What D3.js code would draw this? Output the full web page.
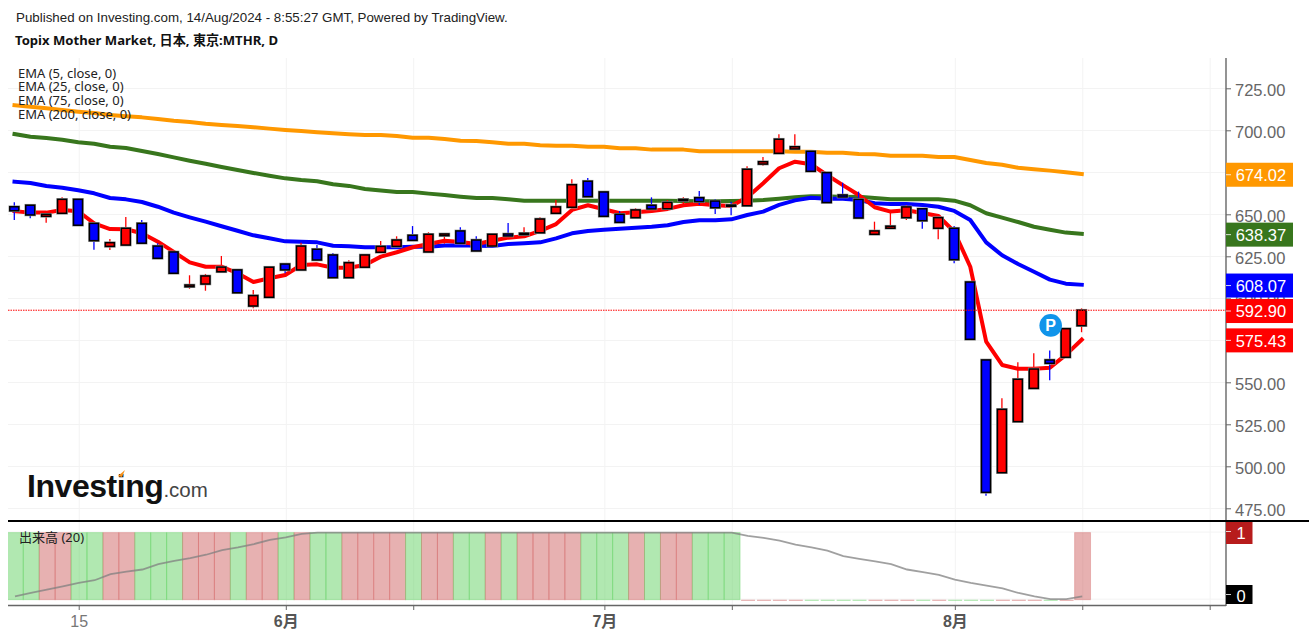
<!DOCTYPE html>
<html>
<head>
<meta charset="utf-8">
<script src="https://cdn.jsdelivr.net/npm/d3@7"></script>
<style>
html, body { margin: 0; padding: 0; background: #fff; overflow: hidden; }
svg { display: block; font-family: "Liberation Sans", Arial, sans-serif; }
</style>
</head>
<body>
<svg id="chart" width="1309" height="639"></svg>
<script>
// daily bars, May 9 - Aug 14 2024
const opens = [654.5,655.4,648.8,650.6,658.9,644.6,630.9,631.7,644.6,631.1,627.6,606.9,608.5,615.8,616.9,595.4,600.6,620.4,616.9,629.2,625.8,612.3,618.5,627.4,630.9,637.5,627.6,637.3,640.1,634.7,631.1,638.3,637.9,639.0,650.6,654.2,669.7,663.3,650.0,648.0,655.4,653.3,658.1,659.9,657.9,655.5,655.1,679.9,686.3,688.9,687.5,674.8,661.5,658.9,638.1,641.7,648.0,653.3,641.7,641.7,609.7,563.3,496.2,526.6,546.4,563.3,564.9,583.7];
const highs = [657.2,655.4,650.0,660.1,658.9,644.6,635.3,648.4,646.6,632.8,627.6,613.7,614.5,625.2,616.9,604.9,618.5,620.4,633.1,631.7,627.0,622.6,625.8,634.1,636.9,643.0,639.3,638.3,642.3,636.9,638.1,644.8,642.3,648.2,658.5,670.8,671.6,663.3,652.0,653.6,660.1,658.5,660.1,663.9,659.0,657.5,678.6,684.1,697.6,697.6,687.5,674.8,668.8,663.5,645.6,651.6,655.6,653.3,648.0,643.0,609.7,563.3,540.5,561.9,567.3,569.0,581.9,594.0];
const lows = [646.6,647.6,645.0,650.6,643.5,628.9,628.8,631.7,632.8,623.8,614.9,605.7,604.5,615.8,603.3,594.1,600.6,614.9,616.9,622.8,612.3,612.3,618.5,627.4,630.9,634.5,627.6,632.5,632.8,628.2,631.1,637.1,637.9,639.0,650.6,654.2,660.5,648.8,645.2,648.0,653.2,653.3,656.1,655.5,650.2,649.4,655.1,678.9,686.3,688.9,675.6,657.0,660.3,647.8,638.1,641.7,646.6,641.4,635.1,620.8,575.6,482.5,496.2,526.6,546.4,551.2,564.9,579.8];
const closes = [652.1,649.6,650.0,658.9,643.5,634.3,633.1,641.7,632.8,623.8,614.9,607.9,613.3,618.6,603.3,601.6,618.5,616.9,631.1,622.8,612.3,621.2,625.8,630.9,634.7,634.5,638.1,638.3,632.8,628.2,638.1,637.1,638.7,647.2,654.4,667.6,660.5,648.8,645.2,652.6,653.2,657.1,658.9,657.5,653.9,654.8,676.8,681.3,694.7,690.2,675.6,657.0,660.3,647.8,640.1,642.9,654.4,646.2,648.0,623.0,575.6,484.5,533.9,551.8,557.9,561.3,581.9,592.9];

const ema5 = [651.8,651.0,651.0,652.6,651.8,644.6,641.2,641.1,638.7,633.7,627.6,621.4,618.8,618.8,614.9,609.7,611.9,613.9,619.8,620.2,618.2,618.2,619.8,624.8,627.4,630.4,632.3,634.3,633.5,632.3,634.3,636.1,636.9,640.1,644.2,652.6,655.4,653.0,650.6,651.2,652.0,653.2,655.4,656.3,655.4,655.0,660.1,668.5,677.4,681.3,679.8,673.4,667.4,661.5,654.2,651.6,652.4,650.8,649.0,639.6,618.8,574.2,560.3,558.1,558.1,558.7,566.3,575.43];
const ema25 = [669.4,668.6,666.9,665.8,664.3,662.5,659.7,658.9,657.3,654.5,651.0,648.2,645.6,642.9,640.2,637.5,635.7,633.9,633.7,633.3,631.3,631.0,630.4,630.4,630.4,630.7,630.7,631.4,631.6,631.3,631.1,632.3,632.7,633.3,635.7,638.7,640.1,640.8,641.4,642.0,642.6,643.5,645.4,646.4,646.4,647.0,649.6,651.6,655.6,658.3,659.9,659.3,659.3,658.5,656.6,656.1,656.1,655.5,654.5,652.0,646.6,633.3,625.6,620.4,615.8,611.1,608.7,608.07];
const ema75 = [697.8,696.2,695.4,694.4,692.9,692.0,690.2,689.5,687.7,685.9,683.9,681.9,680.1,678.2,676.4,674.6,673.0,671.4,670.4,669.7,667.9,666.9,665.1,664.1,663.3,663.3,662.3,661.5,660.5,659.7,659.7,658.9,658.1,658.1,658.1,658.1,658.1,658.1,658.1,658.1,658.1,658.1,657.9,657.7,657.7,657.9,658.1,658.5,659.3,660.1,660.7,660.7,660.3,660.5,659.7,658.9,658.9,658.9,658.9,658.1,655.4,650.6,648.0,645.4,642.6,640.8,639.1,638.37];
const ema200 = [714.9,714.0,713.1,712.1,711.1,710.3,709.1,708.3,707.7,706.7,705.7,705.0,703.9,703.2,702.6,701.8,701.0,700.2,699.6,698.8,698.2,697.6,697.2,697.2,696.6,695.6,695.6,694.8,693.8,693.6,692.9,692.0,692.0,691.1,690.8,690.8,690.2,690.2,689.3,689.3,688.5,688.5,688.5,687.5,687.5,687.5,687.5,687.5,687.5,687.3,687.3,686.7,686.7,685.9,685.7,684.9,684.9,684.9,684.1,684.1,682.3,680.5,679.5,677.7,676.8,676.0,675.0,674.02];

const volumes = [1,1,1,1,1,1,1,1,1,1,1,1,1,1,1,1,1,1,1,1,1,1,1,1,1,1,1,1,1,1,1,1,1,1,1,1,1,1,1,1,1,1,1,1,1,1,0,0,0,0,0,0,0,0,0,0,0,0,0,0,0,0,0,0,0,0,0,1];
const volumeMa = [0.05,0.1,0.15,0.2,0.25,0.29,0.38,0.42,0.45,0.53,0.58,0.62,0.67,0.74,0.78,0.83,0.89,0.93,0.98,1,1,1,1,1,1,1,1,1,1,1,1,1,1,1,1,1,1,1,1,1,1,1,1,1,1,1,0.95,0.92,0.88,0.82,0.78,0.73,0.65,0.61,0.57,0.53,0.45,0.41,0.37,0.3,0.25,0.21,0.17,0.1,0.05,0.01,0.01,0.05];

const priceTicks = [725,700,675,650,625,600,575,550,525,500,475];
const timeTicks = [4,17,25,37,45,59,67,75];
const timeLabels = {4: "15", 17: "6月", 37: "7月", 59: "8月"};
const monthTicks = [17,37,59];
const legendNames = ["EMA (5, close, 0)","EMA (25, close, 0)","EMA (75, close, 0)","EMA (200, close, 0)"];

const lastPrice = 592.9;
const priceTags = [
    {value: 674.02, color: "#ff9800"},
    {value: 638.37, color: "#38761d"},
    {value: 608.07, color: "#0000ff"},
    {value: 592.90, color: "#ff0000"},
    {value: 575.43, color: "#ff0000"}
];

const UP = "#ff0000", DOWN = "#0000ff";
const left = 8, axisX = 1226;

const svg = d3.select("#chart");

const x = d3.scaleLinear().domain([0, 75]).range([15, 1209.7]);
const y = d3.scaleLinear().domain([475, 725]).range([508.3, 88.3]);
const yVol = d3.scaleLinear().domain([0, 1]).range([599.7, 532.6]);

svg.append("clipPath").attr("id", "plot").append("rect")
    .attr("x", left).attr("y", 58).attr("width", axisX - left).attr("height", 548);

// grid
const grid = svg.append("g").attr("stroke", "#f3f3f3").attr("stroke-width", 1);
grid.selectAll("line.h").data(priceTicks).join("line")
    .attr("x1", left).attr("x2", axisX)
    .attr("y1", d => Math.round(y(d)) + 0.5).attr("y2", d => Math.round(y(d)) + 0.5);
grid.selectAll("line.v").data(timeTicks).join("line")
    .attr("x1", d => x(d) + 0.5).attr("x2", d => x(d) + 0.5)
    .attr("y1", 58).attr("y2", 605);
grid.selectAll("line.vh").data([0, 1]).join("line")
    .attr("x1", left).attr("x2", axisX)
    .attr("y1", d => yVol(d) - 0.5).attr("y2", d => yVol(d) - 0.5);

// ema lines
const line = d3.line().x((d, i) => x(i) - 0.5).y(d => y(d));
const emas = [[ema200, "#ff9800"], [ema75, "#38761d"], [ema25, "#0000ff"], [ema5, "#ff0000"]];
svg.append("g").selectAll("path").data(emas).join("path")
    .attr("d", d => line(d[0]))
    .attr("fill", "none")
    .attr("stroke", d => d[1])
    .attr("stroke-width", 4)
    .attr("stroke-linejoin", "round")
    .attr("stroke-linecap", "square");

// candles
const bars = d3.range(opens.length);
const candles = svg.append("g");
candles.selectAll("line").data(bars).join("line")
    .attr("x1", i => x(i) - 0.7).attr("x2", i => x(i) - 0.7)
    .attr("y1", i => y(highs[i])).attr("y2", i => y(lows[i]))
    .attr("stroke", i => closes[i] >= opens[i] ? UP : DOWN)
    .attr("stroke-width", 1.3);
candles.selectAll("rect.halo").data(bars).join("rect")
    .attr("x", i => x(i) - 5.2)
    .attr("width", 9)
    .attr("y", i => y(Math.max(opens[i], closes[i])))
    .attr("height", i => Math.abs(y(opens[i]) - y(closes[i])))
    .attr("fill", "none")
    .attr("stroke", "#999")
    .attr("stroke-width", 2.6);
candles.selectAll("rect.body").data(bars).join("rect")
    .attr("x", i => x(i) - 5.2)
    .attr("width", 9)
    .attr("y", i => y(Math.max(opens[i], closes[i])))
    .attr("height", i => Math.abs(y(opens[i]) - y(closes[i])))
    .attr("fill", i => closes[i] >= opens[i] ? UP : DOWN)
    .attr("stroke", "#000")
    .attr("stroke-width", 1.5);

// last price line
svg.append("line")
    .attr("x1", left).attr("x2", axisX)
    .attr("y1", y(lastPrice)).attr("y2", y(lastPrice))
    .attr("stroke", "#ff0000")
    .attr("stroke-width", 1)
    .attr("stroke-dasharray", "1.5,1");

// P badge
svg.append("circle").attr("cx", 1050.7).attr("cy", 325.4).attr("r", 11.3).attr("fill", "#1094ea");
svg.append("text").attr("x", 1050.7).attr("y", 331.2)
    .attr("text-anchor", "middle")
    .attr("font-size", 16).attr("font-weight", 700)
    .attr("fill", "#fff").text("P");

// volume pane
const barW = x(1) - x(0);
svg.append("g").attr("clip-path", "url(#plot)").selectAll("rect").data(bars).join("rect")
    .attr("x", i => x(i) - barW / 2 + 0.3 + (volumes[i] ? 0 : 1))
    .attr("width", i => volumes[i] ? barW : barW - 2)
    .attr("y", i => volumes[i] ? yVol(volumes[i]) : yVol(0))
    .attr("height", i => volumes[i] ? yVol(0) - yVol(volumes[i]) : 1.2)
    .attr("fill", i => closes[i] >= opens[i] ? "rgba(205,92,92,0.48)" : "rgba(85,205,85,0.46)")
    .attr("stroke", i => !volumes[i] ? "none" : closes[i] >= opens[i] ? "rgba(205,70,70,0.28)" : "rgba(60,200,60,0.28)")
    .attr("stroke-width", 1);
svg.append("path")
    .attr("d", d3.line().x((d, i) => x(i)).y(d => yVol(d))(volumeMa))
    .attr("fill", "none")
    .attr("stroke", "#808080")
    .attr("stroke-opacity", 0.75)
    .attr("stroke-width", 1.8);

// axes
const axisColor = "#666";
const yAxis = svg.append("g")
    .attr("transform", `translate(${axisX},0)`)
    .call(d3.axisRight(y).tickValues(priceTicks).tickFormat(d3.format(".2f")).tickSize(5).tickPadding(4));
yAxis.select(".domain").remove();
yAxis.selectAll("line").attr("stroke", axisColor);
yAxis.selectAll("text").attr("fill", "#666").attr("font-size", 16.5)
    .attr("font-family", "'Liberation Sans'").attr("dy", "0.46em");

const xAxis = svg.append("g")
    .attr("transform", "translate(0,606)")
    .call(d3.axisBottom(x).tickValues(timeTicks).tickFormat(d => timeLabels[d] || "").tickSize(4).tickPadding(6));
xAxis.select(".domain").remove();
xAxis.selectAll("line").attr("stroke", axisColor);
xAxis.selectAll("text").attr("font-size", 16)
    .attr("font-family", "'Liberation Sans', 'Noto Sans CJK JP'")
    .attr("font-weight", d => monthTicks.includes(d) ? 700 : 400)
    .attr("fill", d => monthTicks.includes(d) ? "#555" : "#777");

svg.append("line").attr("x1", left).attr("x2", axisX).attr("y1", 605.5).attr("y2", 605.5)
    .attr("stroke", axisColor).attr("stroke-width", 1.4);
svg.append("line").attr("x1", axisX).attr("x2", axisX).attr("y1", 58).attr("y2", 606)
    .attr("stroke", axisColor).attr("stroke-width", 1.4);
svg.append("line").attr("x1", left).attr("x2", 1309).attr("y1", 521).attr("y2", 521)
    .attr("stroke", "#000").attr("stroke-width", 2);

// price tags
const tags = svg.append("g").selectAll("g").data(priceTags).join("g")
    .attr("transform", d => `translate(${axisX},${y(d.value) + 0.8})`);
tags.append("rect").attr("x", 0).attr("y", -12).attr("width", 67).attr("height", 24)
    .attr("fill", d => d.color);
tags.append("line").attr("x1", 0).attr("x2", 5).attr("stroke", "rgba(255,255,255,0.8)");
tags.append("text").attr("x", 9.7).attr("y", 6.2)
    .attr("fill", "#fff").attr("font-size", 16.5)
    .text(d => d.value.toFixed(2));

// volume tags
const volTags = [[1, "#b71c1c", 522, 22, 533], [0, "#000", 585, 19, 596]];
volTags.forEach(t => {
    svg.append("rect").attr("x", axisX).attr("y", t[2]).attr("width", 26.5).attr("height", t[3]).attr("fill", t[1]);
    svg.append("line").attr("x1", axisX).attr("x2", axisX + 5).attr("y1", t[4] - 1.5).attr("y2", t[4] - 1.5)
        .attr("stroke", "rgba(255,255,255,0.8)");
    svg.append("text").attr("x", axisX + 15).attr("y", t[4] + 6)
        .attr("text-anchor", "middle")
        .attr("fill", "#fff").attr("font-size", 16.5).text(t[0]);
});

// header texts
svg.append("text").attr("x", 16).attr("y", 21.5)
    .attr("font-size", 13.33).attr("fill", "#222")
    .text("Published on Investing.com, 14/Aug/2024 - 8:55:27 GMT, Powered by TradingView.");
svg.append("text").attr("x", 15).attr("y", 45)
    .attr("font-size", 13.1).attr("font-weight", 700).attr("fill", "#111")
    .attr("font-family", "'Noto Sans', 'Noto Sans CJK JP'")
    .text("Topix Mother Market, 日本, 東京:MTHR, D");

svg.append("g").selectAll("text").data(legendNames).join("text")
    .attr("x", 18)
    .attr("y", (d, i) => [78, 91, 105, 119][i])
    .attr("font-size", 13)
    .attr("font-family", "'Noto Sans'")
    .attr("fill", "#222")
    .text(d => d);
svg.append("text").attr("x", 19).attr("y", 542)
    .attr("font-size", 13).attr("fill", "#222")
    .attr("font-family", "'Noto Sans', 'Noto Sans CJK JP'")
    .text("出来高 (20)");

// logo
const logo = svg.append("text").attr("x", 27).attr("y", 497);
logo.append("tspan").attr("font-size", 32).attr("font-weight", 700).attr("fill", "#111")
    .attr("letter-spacing", -0.45).text("Investing");
logo.append("tspan").attr("font-size", 20.5).attr("fill", "#444").text(".com");
svg.append("path").attr("d", "M118 476 L125 470 L122 477 Z").attr("fill", "#f7931e");
</script>
</body>
</html>
